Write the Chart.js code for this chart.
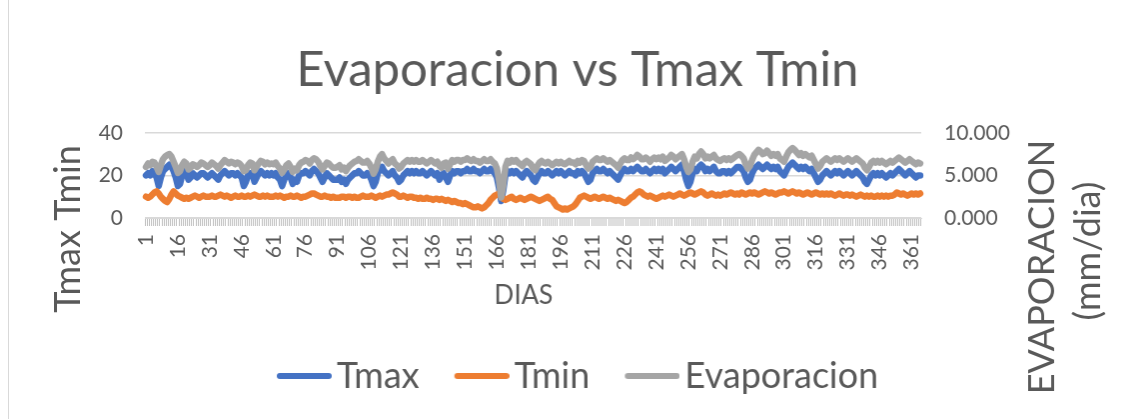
<!DOCTYPE html>
<html>
<head>
    <title>Evaporacion vs Tmax Tmin</title>
    <script src="https://cdn.jsdelivr.net/npm/chart.js"></script>
    <style>
        body { margin: 0; background: #fff; overflow: hidden; }
        #chart { position: absolute; left: 8px; top: 0; border-left: 1px solid #d9d9d9; }
    </style>
</head>
<body>
    <canvas id="chart" width="1138" height="419"></canvas>

    <script>
        // daily readings, day 1 to 365 (15 per row)
        const tmax = [
            20, 21, 20, 22, 21, 19, 15, 19, 22, 23, 24, 25, 24, 22, 19,
            15, 16, 20, 22, 21, 18, 19, 21, 20, 19, 20, 21, 21, 20, 19,
            20, 21, 20, 19, 18, 20, 21, 22, 21, 20, 21, 21, 20, 21, 20,
            19, 15, 17, 20, 21, 21, 17, 19, 21, 22, 21, 20, 21, 20, 21,
            20, 21, 19, 18, 15, 18, 20, 21, 19, 16, 18, 17, 20, 21, 21,
            22, 21, 20, 22, 23, 22, 21, 19, 17, 19, 21, 20, 19, 18, 18,
            18, 19, 17, 18, 16, 18, 19, 20, 21, 21, 22, 21, 20, 20, 21,
            20, 18, 15, 17, 21, 23, 24, 22, 21, 20, 21, 22, 20, 19, 17,
            18, 20, 21, 22, 21, 22, 21, 22, 21, 21, 22, 21, 20, 21, 22,
            21, 20, 21, 18, 20, 21, 19, 17, 20, 22, 21, 22, 22, 21, 22,
            22, 23, 22, 22, 23, 22, 22, 21, 22, 23, 22, 22, 23, 22, 21,
            19, 14, 8, 13, 20, 22, 21, 22, 21, 22, 21, 20, 19, 21, 22,
            21, 20, 18, 17, 19, 21, 22, 21, 21, 22, 21, 20, 21, 22, 21,
            22, 21, 20, 21, 22, 21, 21, 20, 22, 21, 22, 21, 19, 17, 18,
            21, 22, 23, 22, 22, 23, 22, 21, 22, 21, 20, 19, 18, 20, 22,
            23, 22, 22, 23, 22, 23, 24, 23, 22, 22, 23, 22, 21, 22, 23,
            22, 23, 22, 23, 21, 22, 23, 24, 23, 22, 23, 24, 25, 22, 18,
            15, 17, 21, 23, 22, 24, 25, 24, 22, 23, 22, 23, 24, 22, 21,
            21, 22, 22, 21, 22, 21, 22, 23, 24, 24, 23, 22, 19, 17, 18,
            21, 23, 24, 25, 24, 23, 24, 25, 24, 23, 24, 23, 24, 22, 21,
            20, 22, 24, 25, 26, 25, 24, 23, 24, 23, 24, 23, 22, 23, 21,
            19, 17, 18, 20, 21, 22, 21, 20, 21, 22, 21, 22, 21, 20, 21,
            22, 21, 20, 21, 22, 21, 20, 19, 17, 16, 18, 20, 21, 20, 21,
            20, 21, 20, 19, 20, 21, 20, 21, 22, 23, 22, 21, 20, 21, 22,
            21, 20, 19, 20, 20
        ];

        const tmin = [
            10, 9.5, 10, 11, 12, 12.5, 11.5, 10, 9, 8, 7.5, 9, 11, 12.5, 11.5,
            10.5, 10, 9.5, 9, 9.5, 9, 9.5, 10, 10.5, 10, 9.5, 10, 10.5, 10, 10,
            10, 10.5, 10, 10, 10.5, 11, 10.5, 10, 10.5, 10, 9.5, 10, 10.5, 10, 10,
            10.5, 10, 10, 10.5, 10, 10.5, 11, 10.5, 10, 10, 10.5, 10, 10.5, 10, 10,
            10, 10.5, 10, 10.5, 10, 9.5, 10, 10, 10.5, 10, 10, 10.5, 10, 9.5, 10,
            10, 10.5, 11, 11.5, 11.5, 11, 10.5, 10, 10, 10.5, 10, 10, 9.5, 10, 9.5,
            9.5, 9.5, 10, 10, 9.5, 10, 10, 9.5, 10, 9.5, 9.5, 10, 10.5, 10, 10,
            10, 10.5, 10, 9.5, 10, 10.5, 10, 10.5, 11, 11, 11.5, 12, 11.5, 11, 10,
            10, 10.5, 10, 9.5, 10, 10, 9.5, 9.5, 9, 9.5, 9, 9, 9.5, 9, 9,
            8.5, 9, 9, 8.5, 9, 8.5, 8, 8.5, 8, 7.5, 8, 7.5, 7, 7, 6.5,
            7, 6.5, 6, 5.5, 5, 5, 5.5, 5, 4.5, 5, 6, 7, 8.5, 9.5, 10.5,
            11, 11.5, 10.5, 9, 8.5, 9, 9.5, 10, 9, 8.5, 9, 9.5, 9, 8.5, 9,
            9.5, 10, 9.5, 9, 8.5, 8, 8.5, 9, 9.5, 10, 9, 8.5, 7, 5.5, 5,
            4.5, 4, 4.5, 4, 4.5, 5, 5.5, 6.5, 8, 9.5, 10, 10.5, 10, 9.5, 9,
            9.5, 10, 9.5, 9, 9.5, 10, 9.5, 9, 9.5, 9, 8.5, 8, 8.5, 8, 7.5,
            7, 7.5, 8.5, 9.5, 10, 11, 12, 12.5, 12, 11, 10.5, 10, 10.5, 10, 9.5,
            9, 9.5, 10, 10.5, 10, 10.5, 11, 10.5, 10, 10.5, 11, 11.5, 11, 10.5, 11,
            11.5, 12, 11.5, 11, 11.5, 12, 12.5, 12, 11, 10.5, 11, 11.5, 11, 10.5, 11,
            10.5, 11, 11.5, 11, 11.5, 12, 11.5, 11, 11.5, 11, 12, 11.5, 11, 11.5, 12,
            11.5, 12, 11.5, 11, 11.5, 12, 12.5, 12, 11.5, 12, 11.5, 11, 11.5, 12, 12,
            12.5, 12, 11.5, 12, 12.5, 12, 11.5, 12, 11.5, 11, 11.5, 12, 11.5, 11, 11.5,
            12, 11.5, 11, 11.5, 11, 11.5, 11, 11.5, 11, 10.5, 11, 11.5, 11, 10.5, 11,
            11, 10.5, 11, 10.5, 10, 10.5, 11, 10.5, 10, 10.5, 10, 10.5, 10, 10, 10.5,
            10, 10.5, 10, 10.5, 10, 10.5, 10.5, 11, 12, 11.5, 11, 11.5, 11, 10.5, 11,
            11.5, 11, 11.5, 11, 11.5
        ];

        const evaporacion = [
            6.0, 6.4, 6.2, 6.6, 6.5, 6.0, 5.4, 6.2, 6.9, 7.2, 7.4, 7.5, 7.2, 6.6, 6.0,
            5.3, 5.5, 6.2, 6.6, 6.4, 5.7, 5.9, 6.3, 6.2, 6.0, 6.2, 6.5, 6.4, 6.2, 6.0,
            6.2, 6.5, 6.3, 6.1, 5.8, 6.2, 6.5, 6.8, 6.6, 6.4, 6.6, 6.5, 6.3, 6.5, 6.4,
            6.1, 5.5, 5.6, 6.2, 6.5, 6.4, 5.6, 6.0, 6.4, 6.7, 6.6, 6.3, 6.5, 6.3, 6.4,
            6.3, 6.5, 6.1, 5.8, 5.3, 5.7, 6.2, 6.4, 6.0, 5.4, 5.8, 5.6, 6.2, 6.5, 6.6,
            6.8, 6.7, 6.4, 6.8, 7.0, 6.9, 6.6, 6.1, 5.7, 6.1, 6.5, 6.4, 6.1, 5.9, 5.9,
            6.0, 6.2, 5.7, 5.9, 5.5, 5.9, 6.2, 6.4, 6.6, 6.7, 6.9, 6.7, 6.5, 6.5, 6.7,
            6.4, 5.9, 5.2, 5.7, 6.6, 7.2, 7.5, 7.0, 6.7, 6.4, 6.7, 6.9, 6.4, 6.2, 5.8,
            6.0, 6.4, 6.6, 6.8, 6.6, 6.8, 6.6, 6.8, 6.6, 6.6, 6.8, 6.6, 6.4, 6.6, 6.8,
            6.6, 6.4, 6.6, 6.1, 5.9, 6.4, 6.5, 5.8, 6.3, 6.8, 6.6, 6.8, 6.8, 6.6, 6.8,
            6.8, 7.0, 6.8, 6.7, 6.9, 6.7, 6.7, 6.5, 6.7, 6.9, 6.7, 6.7, 6.9, 6.6, 6.4,
            5.8, 4.4, 2.4, 3.8, 6.0, 6.7, 6.5, 6.8, 6.6, 6.8, 6.5, 6.3, 6.1, 6.5, 6.7,
            6.5, 6.3, 5.8, 5.6, 6.1, 6.5, 6.7, 6.5, 6.4, 6.6, 6.4, 6.2, 6.4, 6.6, 6.4,
            6.6, 6.4, 6.3, 6.5, 6.7, 6.5, 6.5, 6.3, 6.7, 6.5, 6.8, 6.7, 6.2, 5.8, 6.0,
            6.6, 6.8, 7.0, 6.8, 6.8, 7.0, 6.8, 6.6, 6.8, 6.6, 6.4, 6.2, 5.9, 6.4, 6.8,
            7.0, 6.8, 6.8, 7.1, 6.9, 7.1, 7.4, 7.2, 6.9, 6.9, 7.1, 6.9, 6.6, 6.9, 7.1,
            6.9, 7.1, 6.9, 7.2, 6.7, 6.9, 7.1, 7.4, 7.2, 6.9, 7.1, 7.3, 7.5, 6.9, 6.0,
            5.4, 5.7, 6.6, 7.2, 7.0, 7.5, 7.8, 7.5, 7.0, 7.2, 7.0, 7.2, 7.4, 7.0, 6.8,
            6.7, 6.9, 7.0, 6.8, 7.0, 6.8, 7.0, 7.2, 7.4, 7.5, 7.3, 7.0, 6.3, 5.8, 6.1,
            6.8, 7.4, 7.7, 8.0, 7.8, 7.5, 7.6, 7.9, 7.6, 7.3, 7.5, 7.3, 7.5, 7.0, 6.8,
            6.6, 7.2, 7.7, 8.0, 8.2, 8.0, 7.7, 7.4, 7.6, 7.3, 7.5, 7.3, 7.1, 7.3, 6.8,
            6.3, 5.8, 6.1, 6.6, 6.8, 7.0, 6.8, 6.6, 6.8, 7.0, 6.8, 7.0, 6.8, 6.6, 6.8,
            7.0, 6.8, 6.6, 6.8, 7.0, 6.8, 6.6, 6.4, 5.9, 5.6, 6.0, 6.5, 6.7, 6.5, 6.7,
            6.5, 6.7, 6.5, 6.3, 6.5, 6.7, 6.5, 6.7, 6.9, 7.1, 6.9, 6.7, 6.5, 6.7, 6.9,
            6.7, 6.5, 6.3, 6.5, 6.4
        ];

        const dias = tmax.map((v, i) => String(i + 1));

        const colors = { tmax: '#4472C4', tmin: '#ED7D31', evap: '#A5A5A5' };
        const textColor = '#595959';
        const gridColor = '#d9d9d9';

        Chart.defaults.font.family = 'Lato, "Open Sans", sans-serif';
        Chart.defaults.color = textColor;

        // short line shown before each legend label
        function legendLine(color) {
            const c = document.createElement('canvas');
            c.width = 68;
            c.height = 10;
            const g = c.getContext('2d');
            g.strokeStyle = color;
            g.lineWidth = 6;
            g.lineCap = 'round';
            g.beginPath();
            g.moveTo(16, 5);
            g.lineTo(65, 5);
            g.stroke();
            return c;
        }

        function serie(label, data, color, axis, order) {
            return {
                label: label,
                data: data,
                yAxisID: axis,
                order: order,
                borderColor: color,
                backgroundColor: color,
                borderWidth: 6.5,
                borderJoinStyle: 'round',
                borderCapStyle: 'round',
                pointRadius: 0,
                pointHoverRadius: 0,
                pointStyle: legendLine(color),
                tension: 0
            };
        }

        // axis titles drawn by hand so they sit where the layout wants them
        const axisTitles = {
            id: 'axisTitles',
            afterDraw(chart) {
                const ctx = chart.ctx;
                ctx.save();
                ctx.fillStyle = textColor;
                ctx.textAlign = 'center';
                ctx.textBaseline = 'middle';
                ctx.font = '26px Lato';
                ctx.fillText('DIAS', 515, 296);
                ctx.font = '36px Lato';
                [['Tmax Tmin', 59, 229], ['EVAPORACION', 1034, 267], ['(mm/dia)', 1080, 251]].forEach(t => {
                    ctx.save();
                    ctx.translate(t[1], t[2]);
                    ctx.rotate(-Math.PI / 2);
                    ctx.fillText(t[0], 0, 0);
                    ctx.restore();
                });
                ctx.restore();
            }
        };

        const ctx = document.getElementById('chart').getContext('2d');
        const chart = new Chart(ctx, {
            type: 'line',
            data: {
                labels: dias,
                datasets: [
                    serie('Tmax', tmax, colors.tmax, 'y', 3),
                    serie('Tmin', tmin, colors.tmin, 'y', 2),
                    serie('Evaporacion', evaporacion, colors.evap, 'y2', 1)
                ]
            },
            options: {
                responsive: false,
                animation: false,
                events: [],
                layout: { padding: { bottom: 15 } },
                scales: {
                    x: {
                        offset: true,
                        grid: { display: true, drawOnChartArea: false, drawTicks: true, tickLength: 8, color: '#bfbfbf', offset: true },
                        border: { display: true, color: gridColor },
                        ticks: {
                            autoSkip: false,
                            minRotation: 90,
                            maxRotation: 90,
                            padding: 8,
                            font: { size: 21 },
                            callback: function (value, index) {
                                return index % 15 === 0 ? this.getLabelForValue(value) : '';
                            }
                        },
                        afterFit: function (scale) { scale.height = 105; }
                    },
                    y: {
                        position: 'left',
                        min: 0,
                        max: 40,
                        grid: { color: gridColor, lineWidth: 1.5, drawTicks: false },
                        border: { display: false },
                        ticks: { stepSize: 20, padding: 22, font: { size: 21 } },
                        afterFit: function (scale) { scale.width = 136; }
                    },
                    y2: {
                        position: 'right',
                        min: 0,
                        max: 10,
                        grid: { display: false, drawTicks: false },
                        border: { display: false },
                        ticks: {
                            stepSize: 5,
                            padding: 23,
                            font: { size: 21 },
                            callback: function (value) { return value.toFixed(3); }
                        },
                        afterFit: function (scale) { scale.width = 225; }
                    }
                },
                plugins: {
                    title: {
                        display: true,
                        text: 'Evaporacion vs Tmax Tmin',
                        color: textColor,
                        font: { size: 49, weight: 'normal', lineHeight: 1.2 },
                        padding: { top: 41, bottom: 33 }
                    },
                    legend: {
                        position: 'bottom',
                        labels: {
                            usePointStyle: true,
                            pointStyleWidth: 42,
                            color: textColor,
                            font: { size: 36 },
                            padding: 35,
                            sort: (a, b) => a.datasetIndex - b.datasetIndex
                        }
                    },
                    tooltip: { enabled: false }
                }
            },
            plugins: [axisTitles]
        });
    </script>
</body>
</html>
